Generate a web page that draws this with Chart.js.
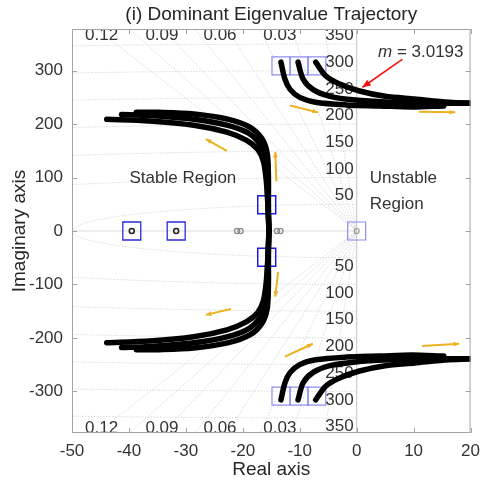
<!DOCTYPE html>
<html>
<head>
<meta charset="utf-8">
<script src="https://cdn.jsdelivr.net/npm/chart.js@4.4.0/dist/chart.umd.min.js"></script>
<style>
  html, body { margin: 0; padding: 0; background: #fff; }
  #wrap { width: 488px; height: 486px; }
</style>
</head>
<body>
<div id="wrap"><canvas id="locus" width="488" height="486"></canvas></div>
<script>
// Dominant eigenvalue paths, [real, imag]; the lower half is the conjugate
const leftInner  = [[-15.4, 0], [-15.6, 49], [-15.9, 97], [-16.4, 131], [-17.4, 153], [-19.4, 170], [-22.8, 185], [-28.6, 198], [-36.4, 206], [-43.9, 209]];
const leftMiddle = [[-15.4, 0], [-15.6, 49], [-15.7, 97], [-16.0, 135], [-16.9, 161], [-19.0, 183], [-22.8, 198], [-28.6, 209], [-36.4, 216], [-41.3, 218]];
const leftOuter  = [[-15.4, 0], [-15.5, 49], [-15.5, 97], [-15.7, 144], [-16.6, 172], [-18.7, 194], [-22.5, 209], [-28.6, 219], [-34.7, 222], [-38.7, 222]];
const rightLower  = [[-13.3, 316], [-12.6, 284], [-11.7, 265], [-10.0, 250], [-7.2, 241], [-1.9, 236], [4.0, 234], [9.7, 232], [15.3, 234]];
const rightMiddle = [[-10.3, 316], [-9.4, 284], [-7.7, 265], [-4.7, 252], [-0.2, 245], [5.7, 241], [11.5, 239], [16.7, 239], [21.0, 239]];
const rightUpper  = [[-7.2, 316], [-5.4, 290], [-3.0, 275], [0.5, 262], [5.0, 252], [10.2, 247], [16.2, 241], [21.0, 239]];

// boxed points
const realAxisBoxes = [[-39.5, 0], [-31.7, 0]];
const originBox = [[0, 0]];
const startBoxes = [[-15.8, 49], [-15.8, -49]];
const highBoxes = [[-13.3, 309], [-10.1, 309], [-7.0, 309], [-13.3, -309], [-10.1, -309], [-7.0, -309]];
const realPoles = [[-39.5, 0], [-31.7, 0]];
const realZeros = [[-21.0, 0], [-20.4, 0], [-14.0, 0], [-13.4, 0]];

// s-plane grid
const dampingRatios = [0.015, 0.03, 0.045, 0.06, 0.075, 0.09, 0.105, 0.12];
const dampingLabels = ['0.12', '0.09', '0.06', '0.03'];
const dampingLabelRe = [-44.8, -34.2, -24.0, -13.5];
const naturalFreqs = [50, 100, 150, 200, 250, 300, 350];

const xTicks = [-50, -40, -30, -20, -10, 0, 10, 20];
const yTicks = [-300, -200, -100, 0, 100, 200, 300];

// direction arrows [re0, im0, re1, im1]
const flowArrows = [
  [-11.7, 235, -6.8, 222], [10.9, 223, 17.3, 222],
  [-22.8, 150, -26.5, 172], [-14.1, 93, -14.3, 148],
  [-13.8, -77, -14.3, -123], [-22.1, -146, -26.5, -157],
  [-12.6, -235, -7.7, -211], [11.5, -215, 18.0, -211]
];
const markArrow = [8.0, 321, 1.0, 269];
const markLabel = '3.0193';
const chartTitle = '(i) Dominant Eigenvalue Trajectory';

const conj = pts => pts.map(([re, im]) => [re, -im]);
const toXY = pts => pts.map(([re, im]) => ({ x: re, y: im }));

const FONT = '"Liberation Sans", Arial, Helvetica, sans-serif';
const TEXT = '#333333';

function pathSet(pts) {
  return {
    data: toXY(pts), showLine: true, borderColor: '#000', borderWidth: 5.5,
    pointRadius: 0, tension: 0.3, borderCapStyle: 'round', borderJoinStyle: 'round', clip: 0
  };
}
function boxSet(pts, color, lw) {
  return {
    data: toXY(pts), showLine: false, pointStyle: 'rect', pointRadius: 12.7,
    borderColor: color, borderWidth: lw, backgroundColor: 'rgba(0,0,0,0)', clip: 0
  };
}

function arrow(ctx, x0, y0, x1, y1, head) {
  const a = Math.atan2(y1 - y0, x1 - x0);
  ctx.beginPath(); ctx.moveTo(x0, y0); ctx.lineTo(x1, y1); ctx.stroke();
  ctx.beginPath();
  ctx.moveTo(x1, y1);
  ctx.lineTo(x1 - head * Math.cos(a - 0.4), y1 - head * Math.sin(a - 0.4));
  ctx.lineTo(x1 - head * Math.cos(a + 0.4), y1 - head * Math.sin(a + 0.4));
  ctx.closePath(); ctx.fill();
}

const sgrid = {
  id: 'sgrid',
  beforeDatasetsDraw(chart) {
    const { ctx, chartArea: a, scales: { x, y } } = chart;
    const px = v => x.getPixelForValue(v), py = v => y.getPixelForValue(v);
    ctx.save();
    // title over the plot box
    ctx.fillStyle = '#262626';
    ctx.font = '19px ' + FONT;
    ctx.textAlign = 'center'; ctx.textBaseline = 'middle';
    ctx.fillText(chartTitle, (a.left + a.right) / 2, 15);

    ctx.beginPath(); ctx.rect(a.left, a.top, a.right - a.left, a.bottom - a.top); ctx.clip();
    ctx.strokeStyle = '#d2d2d2'; ctx.lineWidth = 0.8; ctx.setLineDash([1.5, 1.5]);
    const R = 3000;
    [...dampingRatios, 1].forEach(z => {
      const re = -z * R, im = Math.sqrt(1 - z * z) * R;
      ctx.beginPath();
      ctx.moveTo(px(re), py(im)); ctx.lineTo(px(0), py(0)); ctx.lineTo(px(re), py(-im));
      ctx.stroke();
    });
    naturalFreqs.forEach(w => {
      ctx.beginPath();
      for (let k = 0; k <= 360; k++) {
        const t = Math.PI / 2 + Math.PI * k / 360;
        const fx = px(w * Math.cos(t)), fy = py(w * Math.sin(t));
        k ? ctx.lineTo(fx, fy) : ctx.moveTo(fx, fy);
      }
      ctx.stroke();
    });
    ctx.setLineDash([]);
    ctx.strokeStyle = '#c4c4c4'; ctx.lineWidth = 1;
    ctx.beginPath(); ctx.moveTo(px(0), a.top); ctx.lineTo(px(0), a.bottom); ctx.stroke();

    ctx.fillStyle = TEXT;
    ctx.font = '17px ' + FONT;
    ctx.textAlign = 'center'; ctx.textBaseline = 'middle';
    dampingLabels.forEach((t, i) => {
      ctx.fillText(t, px(dampingLabelRe[i]), a.top + 6);
      ctx.fillText(t, px(dampingLabelRe[i]), a.bottom - 5);
    });
    ctx.textAlign = 'right';
    naturalFreqs.forEach(w => {
      ctx.textBaseline = 'bottom'; ctx.fillText(String(w), px(0) - 3, py(w));
      ctx.textBaseline = 'top'; ctx.fillText(String(w), px(0) - 3, py(-w));
    });
    ctx.restore();
  },
  afterDatasetsDraw(chart) {
    const { ctx, chartArea: a, scales: { x, y } } = chart;
    const px = v => x.getPixelForValue(v), py = v => y.getPixelForValue(v);
    ctx.save();
    // box with inward ticks
    ctx.strokeStyle = '#a3a3a3'; ctx.lineWidth = 1;
    ctx.strokeRect(a.left + 0.5, a.top + 0.5, a.right - a.left - 1, a.bottom - a.top - 1);
    ctx.beginPath();
    xTicks.forEach(v => {
      const p = Math.round(px(v)) + 0.5;
      ctx.moveTo(p, a.bottom); ctx.lineTo(p, a.bottom - 5);
      ctx.moveTo(p, a.top); ctx.lineTo(p, a.top + 5);
    });
    yTicks.forEach(v => {
      const p = Math.round(py(v)) + 0.5;
      ctx.moveTo(a.left, p); ctx.lineTo(a.left + 5, p);
      ctx.moveTo(a.right, p); ctx.lineTo(a.right - 5, p);
    });
    ctx.stroke();

    // flow arrows
    ctx.strokeStyle = '#EDB120'; ctx.fillStyle = '#EDB120'; ctx.lineWidth = 2;
    flowArrows.forEach(([r0, i0, r1, i1]) => arrow(ctx, px(r0), py(i0), px(r1), py(i1), 6));

    ctx.strokeStyle = '#f01010'; ctx.fillStyle = '#f01010'; ctx.lineWidth = 1.6;
    arrow(ctx, px(markArrow[0]), py(markArrow[1]), px(markArrow[2]), py(markArrow[3]), 9);

    ctx.fillStyle = TEXT; ctx.textBaseline = 'middle'; ctx.textAlign = 'left';
    ctx.font = 'italic 17px ' + FONT;
    const mx = 378, my = 52;
    ctx.fillText('m', mx, my);
    const mw = ctx.measureText('m').width;
    ctx.font = '17px ' + FONT;
    ctx.fillText(' = ' + markLabel, mx + mw, my);

    ctx.fillText('Stable Region', px(-39.9), py(99));
    ctx.fillText('Unstable', px(2.3), py(99));
    ctx.fillText('Region', px(2.3), py(50));
    ctx.restore();
  }
};

new Chart(document.getElementById('locus'), {
  type: 'scatter',
  data: {
    datasets: [
      pathSet(leftInner), pathSet(leftMiddle), pathSet(leftOuter),
      pathSet(conj(leftInner)), pathSet(conj(leftMiddle)), pathSet(conj(leftOuter)),
      pathSet(rightLower), pathSet(rightMiddle), pathSet(rightUpper),
      pathSet(conj(rightLower)), pathSet(conj(rightMiddle)), pathSet(conj(rightUpper)),
      boxSet(startBoxes, '#1a1ae0', 1.5),
      boxSet(highBoxes, '#8c8cf0', 1.2),
      boxSet(realAxisBoxes, '#2a2ad8', 1.3),
      boxSet(originBox, '#8c8cf0', 1.2),
      { data: toXY(realPoles), pointStyle: 'circle', pointRadius: 2.5, borderWidth: 1.5,
        borderColor: '#222', backgroundColor: 'rgba(0,0,0,0)', clip: 0 },
      { data: toXY(realZeros), pointStyle: 'circle', pointRadius: 2.6, borderWidth: 1.3,
        borderColor: '#8a8a8a', backgroundColor: 'rgba(0,0,0,0)', clip: 0 },
      { data: toXY(originBox), pointStyle: 'circle', pointRadius: 2.5, borderWidth: 1.2,
        borderColor: '#9a9a9a', backgroundColor: 'rgba(0,0,0,0)', clip: 0 }
    ]
  },
  options: {
    responsive: false,
    animation: false,
    devicePixelRatio: 1,
    layout: { padding: { top: 29, right: 14, bottom: 0, left: 0 } },
    plugins: {
      legend: { display: false },
      tooltip: { enabled: false },
      title: { display: false }
    },
    scales: {
      x: {
        type: 'linear', min: -50, max: 20,
        afterBuildTicks: s => { s.ticks = xTicks.map(v => ({ value: v })); },
        afterFit: s => { s.height = 53; },
        grid: { display: false, drawTicks: false },
        border: { display: false },
        ticks: { color: TEXT, font: { family: FONT, size: 17 }, padding: 8, maxRotation: 0 },
        title: { display: true, text: 'Real axis', color: '#262626',
          font: { family: FONT, size: 19 }, padding: { top: 0, bottom: 5 } }
      },
      y: {
        type: 'linear', min: -378, max: 378,
        afterBuildTicks: s => { s.ticks = yTicks.map(v => ({ value: v })); },
        afterFit: s => { s.width = 72; },
        grid: { display: false, drawTicks: false },
        border: { display: false },
        ticks: { color: TEXT, font: { family: FONT, size: 17 }, padding: 9 },
        title: { display: true, text: 'Imaginary axis', color: '#262626',
          font: { family: FONT, size: 19 }, padding: { top: 8, bottom: 0 } }
      }
    }
  },
  plugins: [sgrid]
});
</script>
</body>
</html>
